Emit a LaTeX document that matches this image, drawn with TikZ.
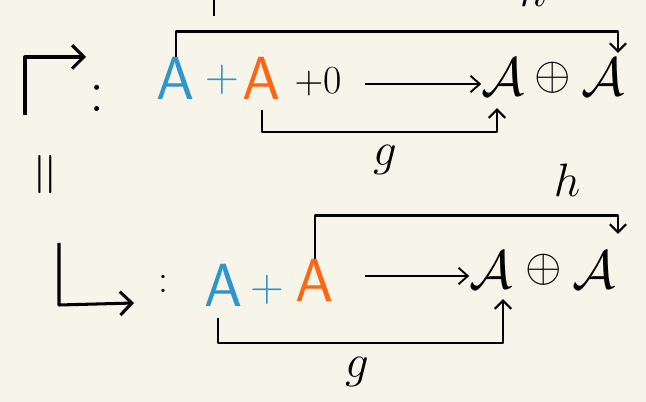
\RequirePackage{fix-cm}
\documentclass[tikz,border=0pt]{standalone}
\usepackage{amsmath,amssymb}
\definecolor{sketchbg}{RGB}{247,245,234}
\definecolor{skblue}{RGB}{45,150,205}
\definecolor{skorange}{RGB}{255,102,20}
\usetikzlibrary{arrows.meta,positioning,calc}

\begin{document}
\begin{tikzpicture}[x=0.03cm, y=-0.03cm,
  sym/.style={inner sep=0pt, anchor=base, font=\fontsize{52}{56}\selectfont},
  tgt/.style={inner sep=0pt, anchor=base, font=\fontsize{46}{50}\selectfont},
  opr/.style={inner sep=0pt, font=\fontsize{40}{44}\selectfont},
  lbl/.style={inner sep=0pt, font=\fontsize{40}{44}\selectfont},
  conn/.style={-{Straight Barb[length=7pt, width=14pt]}, line width=1.8pt, line join=round},
  arr/.style={-{Straight Barb[length=8pt, width=14pt]}, line width=1.6pt},
  corner/.style={-{Straight Barb[length=10pt, width=20pt]}, line width=2.6pt, line join=round}
]
\clip (0,0) rectangle (646,402);
\fill[sketchbg] (0,0) rectangle (646,402);

% Upper row
\draw[corner] (25,115) -- (25,57) -- (86,57);
\node[sym] (col1) at (97,112) {$:$};
\node[sym, text=skblue]   (a1) at (176,100) {\textsf{A}};
\node[opr, text=skblue]   (p1) at (222,80)  {$+$};
\node[sym, text=skorange] (b1) at (262,100) {\textsf{A}};
\node[opr, font=\fontsize{34}{38}\selectfont] (z1) at (318,82) {$+0$};
\node[tgt] (t1a) at (503,96) {$\mathcal{A}$};
\node[opr] (o1)  at (553,78) {$\oplus$};
\node[tgt] (t1b) at (603,96) {$\mathcal{A}$};
\coordinate (s1) at (365,84);
\draw[arr] (s1) -- (t1a.west |- s1);

% Upper brackets
\draw[conn] (a1.north) -- ++(0,-26) -| ($(t1b.north)+(15,-6)$);
\draw[conn] (b1.south) ++(0,10) -- ++(0,22) -| ($(t1a.south)+(-6,12)$);
\node[lbl] (h1) at (533,-10) {$h$};
\draw[line width=2pt] (214,0) -- (214,16);
\node[lbl] (g1) at (385,160) {$g$};

% Equality between the rows
\node[sym, anchor=center, rotate=90] (eq) at (50,175) {$=$};

% Lower row
\draw[corner] (59,243) -- (59,305) -- (134,303);
\node[sym, font=\fontsize{34}{38}\selectfont] (col2) at (163,292) {$:$};
\node[sym, text=skblue]   (a2) at (224,306) {\textsf{A}};
\node[opr, text=skblue]   (p2) at (267,290) {$+$};
\node[sym, text=skorange] (b2) at (315,302) {\textsf{A}};
\node[tgt] (t2a) at (491,289) {$\mathcal{A}$};
\node[opr] (o2)  at (544,270) {$\oplus$};
\node[tgt] (t2b) at (594,289) {$\mathcal{A}$};
\coordinate (s2) at (365,276);
\draw[arr] (s2) -- (t2a.west |- s2);

% Lower brackets
\draw[conn] (b2.north) -- ++(0,-44) -| ($(t2b.north)+(24,-18)$);
\draw[conn] (a2.south) ++(-6,12) -- ++(0,25) -| ($(t2a.south)+(12,10)$);
\node[lbl] (h2) at (567,180) {$h$};
\node[lbl] (g2) at (357,372) {$g$};
\end{tikzpicture}
\end{document}
